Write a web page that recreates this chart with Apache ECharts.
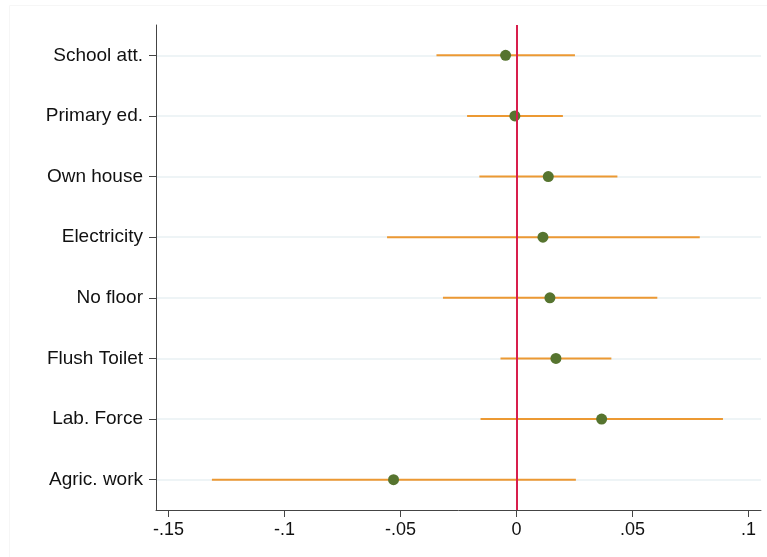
<!DOCTYPE html>
<html>
<head>
<meta charset="utf-8">
<script src="https://cdn.jsdelivr.net/npm/echarts@6/dist/echarts.min.js"></script>
<style>html,body{margin:0;padding:0;background:#fff}#c{width:767px;height:557px}</style>
</head>
<body>
<div id="c"></div>
<script>
const categories = ['School att.', 'Primary ed.', 'Own house', 'Electricity', 'No floor', 'Flush Toilet', 'Lab. Force', 'Agric. work'];
const estimates = [-0.0047, -0.0007, 0.0137, 0.0114, 0.0144, 0.0170, 0.0367, -0.0530];
const ciLow = [-0.0345, -0.0213, -0.0160, -0.0558, -0.0317, -0.0069, -0.0155, -0.1313];
const ciHigh = [0.0252, 0.0200, 0.0435, 0.0790, 0.0607, 0.0409, 0.0890, 0.0256];
const xTicks = [-0.15, -0.1, -0.05, 0, 0.05, 0.1];

function fmt(v) {
  if (Math.abs(v) < 1e-9) return '0';
  let s = String(Math.round(v * 1000) / 1000);
  return s.replace(/^(-?)0\./, '$1.');
}

const chart = echarts.init(document.getElementById('c'), null, {renderer: 'canvas'});
const font = 'Liberation Sans, Arial, sans-serif';
chart.setOption({
  animation: false,
  backgroundColor: '#ffffff',
  graphic: [{
    type: 'rect', silent: true, z: -10,
    shape: {x: 9.5, y: 5.5, width: 800, height: 600},
    style: {fill: 'none', stroke: '#f6f6f6', lineWidth: 1}
  }],
  grid: {left: 156, right: 6, top: 25, bottom: 47, containLabel: false},
  xAxis: {
    type: 'value',
    min: -0.1554,
    max: 0.1054,
    axisLine: {show: true, onZero: false, lineStyle: {color: '#444', width: 1}},
    axisTick: {show: true, length: 7, customValues: xTicks, lineStyle: {color: '#444'}},
    axisLabel: {customValues: xTicks, formatter: fmt, fontSize: 18, fontFamily: font, color: '#111', margin: 11},
    splitLine: {show: false}
  },
  yAxis: {
    type: 'category',
    data: categories,
    inverse: true,
    boundaryGap: true,
    axisLine: {show: true, onZero: false, lineStyle: {color: '#444', width: 1}},
    axisTick: {show: true, alignWithLabel: true, length: 7, lineStyle: {color: '#444'}},
    axisLabel: {interval: 0, fontSize: 19, fontFamily: font, color: '#111', margin: 13},
    splitLine: {show: true, alignWithLabel: true, interval: 0, lineStyle: {color: '#e9f0f3', width: 1.5}}
  },
  series: [
    {
      type: 'custom',
      z: 2,
      data: categories.map((c, i) => [ciLow[i], ciHigh[i], i]),
      encode: {x: [0, 1], y: 2},
      renderItem: function (params, api) {
        const p1 = api.coord([api.value(0), api.value(2)]);
        const p2 = api.coord([api.value(1), api.value(2)]);
        return {
          type: 'line',
          shape: {x1: p1[0], y1: p1[1], x2: p2[0], y2: p2[1]},
          style: {stroke: '#ec9933', lineWidth: 2}
        };
      }
    },
    {
      type: 'scatter',
      z: 3,
      data: [],
      markLine: {
        silent: true,
        symbol: ['none', 'none'],
        label: {show: false},
        lineStyle: {color: '#d81e4c', width: 2, type: 'solid'},
        data: [{xAxis: 0}]
      }
    },
    {
      type: 'scatter',
      z: 4,
      symbol: 'circle',
      symbolSize: 11,
      itemStyle: {color: '#56742f', opacity: 1},
      data: categories.map((c, i) => [estimates[i], c])
    }
  ]
});
</script>
</body>
</html>
